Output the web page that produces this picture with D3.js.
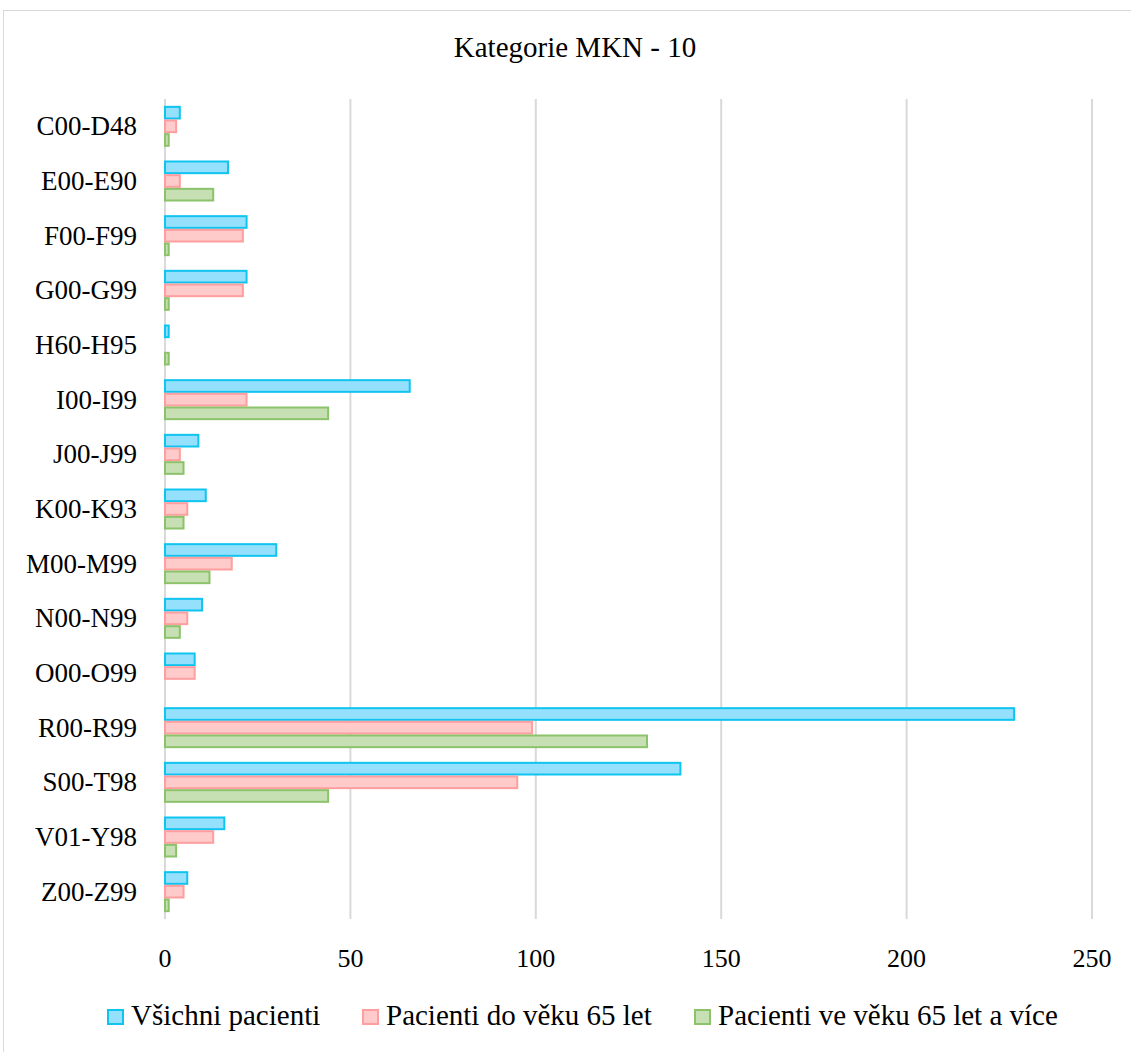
<!DOCTYPE html>
<html>
<head>
<meta charset="utf-8">
<script src="https://cdn.jsdelivr.net/npm/d3@7"></script>
<style>
  body { margin: 0; background: #fff; }
  text { font-family: "Liberation Serif", "DejaVu Serif", serif; fill: #000; }
</style>
</head>
<body>
<div id="chart"></div>
<script>
// data
var categories = ['C00-D48','E00-E90','F00-F99','G00-G99','H60-H95','I00-I99','J00-J99',
                  'K00-K93','M00-M99','N00-N99','O00-O99','R00-R99','S00-T98','V01-Y98','Z00-Z99'];
var allPatients = [4,17,22,22,1,66,9,11,30,10,8,229,139,16,6];
var under65     = [3,4,21,21,0,22,4,6,18,6,8,99,95,13,5];
var over65      = [1,13,1,1,1,44,5,5,12,4,0,130,44,3,1];
var seriesNames = ['Všichni pacienti','Pacienti do věku 65 let','Pacienti ve věku 65 let a více'];
var xTicks = [0,50,100,150,200,250];

var fills   = ['#95E0FC','#FFCACA','#C6E0B4'];
var strokes = ['#10C4F0','#FF9E9E','#8BC26A'];

var W = 1131, H = 1052;
var svg = d3.select("#chart").append("svg")
    .attr("width", W)
    .attr("height", H);

// chart area border
svg.append("rect")
    .attr("x", 3.5).attr("y", 10.5)
    .attr("width", 1140).attr("height", 1050)
    .attr("fill", "none").attr("stroke", "#D9D9D9").attr("stroke-width", 1);

svg.append("text")
    .attr("x", 575).attr("y", 57)
    .attr("text-anchor", "middle")
    .style("font-size", "29px")
    .text("Kategorie MKN - 10");

var x = d3.scaleLinear().domain([0, 250]).range([165, 1092]);
var y = d3.scaleBand().domain(categories).range([99, 919])
    .paddingInner(0.25).paddingOuter(0.125);
var ySub = d3.scaleBand().domain([0,1,2]).range([0, y.bandwidth()]);

// gridlines
svg.append("g").selectAll("line")
  .data(xTicks).join("line")
    .attr("x1", function(d){ return x(d); })
    .attr("x2", function(d){ return x(d); })
    .attr("y1", 99).attr("y2", 919)
    .attr("stroke", "#D9D9D9").attr("stroke-width", 2);

// tick labels
svg.append("g").selectAll("text")
  .data(xTicks).join("text")
    .attr("x", function(d){ return x(d); })
    .attr("y", 967)
    .attr("text-anchor", "middle")
    .style("font-size", "26px")
    .text(function(d){ return d; });

// category labels
svg.append("g").selectAll("text")
  .data(categories).join("text")
    .attr("x", 137)
    .attr("y", function(d){ return y(d) + y.bandwidth()/2 + 9; })
    .attr("text-anchor", "end")
    .style("font-size", "27px")
    .text(function(d){ return d; });

var seriesData = [allPatients, under65, over65];
var rows = [];
categories.forEach(function(c, i){
    seriesData.forEach(function(s, k){
        rows.push({cat: c, k: k, v: s[i]});
    });
});

svg.append("g").selectAll("rect")
  .data(rows.filter(function(d){ return d.v > 0; })).join("rect")
    .attr("x", x(0))
    .attr("y", function(d){ return y(d.cat) + ySub(d.k) + 1; })
    .attr("width", function(d){ return x(d.v) - x(0); })
    .attr("height", ySub.bandwidth() - 2)
    .attr("fill", function(d){ return fills[d.k]; })
    .attr("stroke", function(d){ return strokes[d.k]; })
    .attr("stroke-width", 2);

// legend
var legendX = [108, 363, 695];
var lg = svg.append("g").selectAll("g")
  .data(seriesNames).join("g")
    .attr("transform", function(d, i){ return "translate(" + legendX[i] + ",1010)"; });
lg.append("rect")
    .attr("width", 15).attr("height", 14)
    .attr("fill", function(d, i){ return fills[i]; })
    .attr("stroke", function(d, i){ return strokes[i]; })
    .attr("stroke-width", 2);
lg.append("text")
    .attr("x", 23).attr("y", 15)
    .style("font-size", "29px")
    .text(function(d){ return d; });
</script>
</body>
</html>
